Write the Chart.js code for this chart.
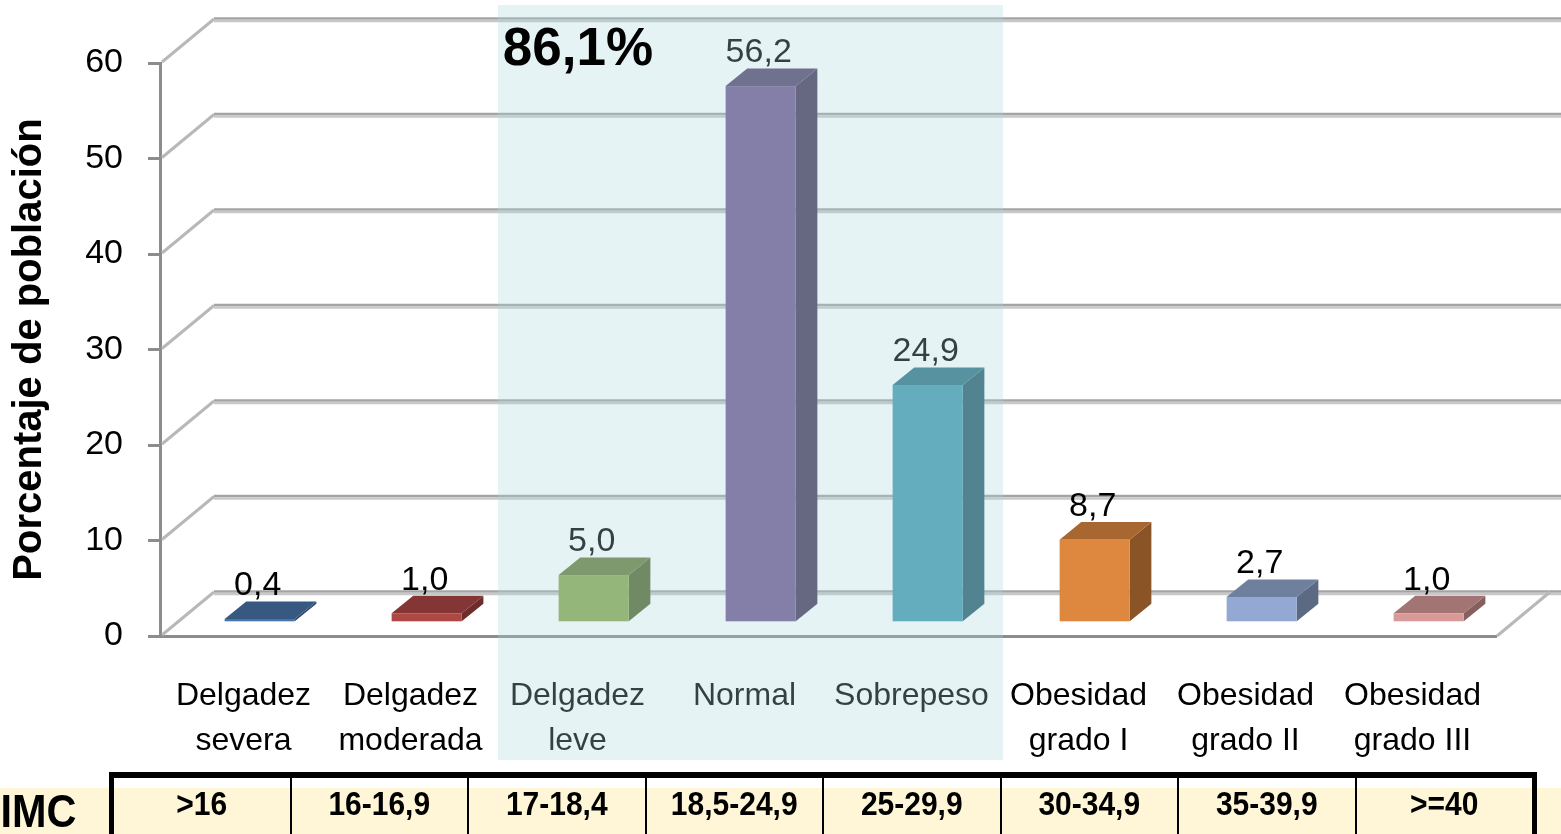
<!DOCTYPE html>
<html>
<head>
<meta charset="utf-8">
<script src="https://cdn.jsdelivr.net/npm/chart.js@4.4.1/dist/chart.umd.min.js"></script>
<style>
html,body{margin:0;padding:0;background:#fff;width:1561px;height:834px;overflow:hidden;font-family:'Liberation Sans',Arial,sans-serif;}
#band{position:absolute;left:0;top:788px;width:1561px;height:46px;background:#FEF6D7;z-index:0;}
#chartWrap{position:absolute;left:0;top:0;width:1561px;height:834px;z-index:1;}
#imc{position:absolute;right:1485px;top:788px;font:bold 46px 'Liberation Sans',Arial,sans-serif;line-height:46px;white-space:nowrap;color:#000;z-index:2;transform:scaleX(0.9);transform-origin:right center;}
#tbl{position:absolute;left:109px;top:772px;width:1428px;height:72px;box-sizing:border-box;border:5px solid #000;border-top-width:6px;display:flex;z-index:2;}
#tbl .cell{flex:1 1 0;box-sizing:border-box;border-left:2px solid #000;font:bold 30px 'Liberation Sans',Arial,sans-serif;text-align:center;line-height:52px;color:#000;white-space:nowrap;}
#tbl .cell span{display:inline-block;transform:scaleY(1.12);}
#tbl .cell:first-child{border-left:none;}
</style>
</head>
<body>
<div id="band"></div>
<div id="chartWrap"><canvas id="c" width="1561" height="834"></canvas></div>
<div id="imc">IMC</div>
<div id="tbl"></div>
<script>
// ---- data ----
const categories = [
  ['Delgadez', 'severa'],
  ['Delgadez', 'moderada'],
  ['Delgadez', 'leve'],
  ['Normal'],
  ['Sobrepeso'],
  ['Obesidad', 'grado I'],
  ['Obesidad', 'grado II'],
  ['Obesidad', 'grado III']
];
const values = [0.4, 1.0, 5.0, 56.2, 24.9, 8.7, 2.7, 1.0];
const imcRanges = ['>16', '16-16,9', '17-18,4', '18,5-24,9', '25-29,9', '30-34,9', '35-39,9', '>=40'];
const yTicks = [0, 10, 20, 30, 40, 50, 60];
const highlightIdx = [2, 3, 4];
const yTitle = 'Porcentaje de población';
const axisLabel = 'IMC';

// ---- styles ----
const barColors = ['#4F81BD', '#C0504D', '#9BBB59', '#8064A2', '#4BACC6', '#F79646', '#A3BCEA', '#F0ABAA'];
const FONT = "'Liberation Sans', Arial, sans-serif";
const DEPTH = { x: 54, y: -44 };
const BAR_FRONT = 0.3, BAR_BACK = 0.7;

const fmt = v => v.toFixed(1).replace('.', ',');

// table
const tbl = document.getElementById('tbl');
imcRanges.forEach(r => {
  const d = document.createElement('div'); d.className = 'cell';
  const s = document.createElement('span'); s.textContent = r; d.appendChild(s);
  tbl.appendChild(d);
});
document.getElementById('imc').textContent = axisLabel;

function shade(hex, f) {
  const n = parseInt(hex.slice(1), 16);
  const r = (n >> 16) & 255, g = (n >> 8) & 255, b = n & 255;
  return `rgb(${Math.round(r * f)},${Math.round(g * f)},${Math.round(b * f)})`;
}
function poly(ctx, pts) {
  ctx.beginPath(); ctx.moveTo(pts[0][0], pts[0][1]);
  for (let i = 1; i < pts.length; i++) ctx.lineTo(pts[i][0], pts[i][1]);
  ctx.closePath(); ctx.fill();
}

const wallPlugin = {
  id: 'wall',
  beforeDatasetsDraw(chart) {
    const { ctx, chartArea: a, scales: { y } } = chart;
    ctx.save();
    ctx.lineCap = 'butt';
    yTicks.forEach(v => {
      const py = y.getPixelForValue(v);
      ctx.strokeStyle = '#b8b8b8'; ctx.lineWidth = 3;
      ctx.beginPath(); ctx.moveTo(a.left + 2, py - 1); ctx.lineTo(a.left + DEPTH.x, py + DEPTH.y); ctx.stroke();
      ctx.lineWidth = 2.5; ctx.strokeStyle = '#a4a4a4';
      ctx.beginPath(); ctx.moveTo(a.left + DEPTH.x, py + DEPTH.y - 0.5); ctx.lineTo(chart.width, py + DEPTH.y - 0.5); ctx.stroke();
      ctx.strokeStyle = '#c8c8c8';
      ctx.beginPath(); ctx.moveTo(a.left + DEPTH.x, py + DEPTH.y + 2); ctx.lineTo(chart.width, py + DEPTH.y + 2); ctx.stroke();
    });
    const py0 = y.getPixelForValue(0);
    ctx.strokeStyle = '#b8b8b8'; ctx.lineWidth = 3;
    ctx.beginPath(); ctx.moveTo(a.right + 1, py0); ctx.lineTo(a.right + DEPTH.x, py0 + DEPTH.y); ctx.stroke();
    ctx.restore();
  }
};

const bars3dPlugin = {
  id: 'bars3d',
  afterDatasetsDraw(chart) {
    const { ctx } = chart;
    const meta = chart.getDatasetMeta(0);
    const fx = DEPTH.x * BAR_FRONT, fy = DEPTH.y * BAR_FRONT;
    const dx = DEPTH.x * (BAR_BACK - BAR_FRONT), dy = DEPTH.y * (BAR_BACK - BAR_FRONT);
    ctx.save();
    meta.data.forEach((el, i) => {
      const { x, y, base, width: w } = el.getProps(['x', 'y', 'base', 'width'], true);
      const c = barColors[i];
      const x0 = x - w / 2 + fx, x1 = x + w / 2 + fx, yT = y + fy, yB = base + fy;
      ctx.fillStyle = shade(c, 0.56);
      poly(ctx, [[x1, yT], [x1 + dx, yT + dy], [x1 + dx, yB + dy], [x1, yB]]);
      ctx.fillStyle = shade(c, 0.68);
      poly(ctx, [[x0, yT], [x1, yT], [x1 + dx, yT + dy], [x0 + dx, yT + dy]]);
      ctx.fillStyle = shade(c, 0.9);
      ctx.fillRect(x0, yT, x1 - x0, yB - yT);
      ctx.fillStyle = '#000';
      ctx.font = '34px ' + FONT;
      ctx.textAlign = 'center'; ctx.textBaseline = 'alphabetic';
      ctx.fillText(fmt(values[i]), (x0 + x1) / 2 - 2, yT + dy - 6);
    });
    ctx.restore();
  }
};

const highlightPlugin = {
  id: 'highlight',
  afterDraw(chart) {
    const { ctx, scales: { x } } = chart;
    const cw = (x.right - x.left) / categories.length;
    const first = Math.min(...highlightIdx), last = Math.max(...highlightIdx);
    const left = x.getPixelForTick(first) - cw / 2 + 4;
    const right = x.getPixelForTick(last) + cw / 2 + 8;
    ctx.save();
    ctx.fillStyle = 'rgba(172,215,222,0.3)';
    ctx.fillRect(left, 5, right - left, 755);
    const total = highlightIdx.reduce((s, i) => s + values[i], 0);
    ctx.fillStyle = '#000';
    ctx.font = 'bold 53px ' + FONT;
    ctx.textAlign = 'center'; ctx.textBaseline = 'alphabetic';
    ctx.fillText(fmt(total) + '%', left + 80, 65);
    ctx.restore();
  }
};

new Chart(document.getElementById('c'), {
  type: 'bar',
  data: {
    labels: categories,
    datasets: [{
      data: values,
      backgroundColor: 'rgba(0,0,0,0)',
      borderWidth: 0,
      barPercentage: 0.42,
      categoryPercentage: 1.0
    }]
  },
  options: {
    responsive: false,
    animation: false,
    devicePixelRatio: 1,
    layout: { padding: { top: 63, right: 65, left: 0, bottom: 0 } },
    plugins: { legend: { display: false }, tooltip: { enabled: false } },
    scales: {
      x: {
        grid: { display: false, drawTicks: false },
        border: { display: true, color: '#8c8c8c', width: 3 },
        ticks: { font: { size: 32, family: FONT, lineHeight: 1.4 }, color: '#000', padding: 38, maxRotation: 0, autoSkip: false },
        afterFit(s) { s.height = 198; }
      },
      y: {
        min: 0, max: 60,
        afterBuildTicks(s) { s.ticks = yTicks.map(v => ({ value: v })); },
        ticks: { font: { size: 34, family: FONT }, color: '#000', padding: 25 },
        grid: { drawOnChartArea: false, drawTicks: true, tickLength: 12, color: '#8c8c8c', lineWidth: 3 },
        border: { display: true, color: '#8c8c8c', width: 3 },
        title: { display: true, text: yTitle, color: '#000', font: { size: 40, weight: 'bold', family: FONT }, padding: { top: 6, bottom: 0 } },
        afterFit(s) { s.width = 160; }
      }
    }
  },
  plugins: [wallPlugin, bars3dPlugin, highlightPlugin]
});
</script>
</body>
</html>
